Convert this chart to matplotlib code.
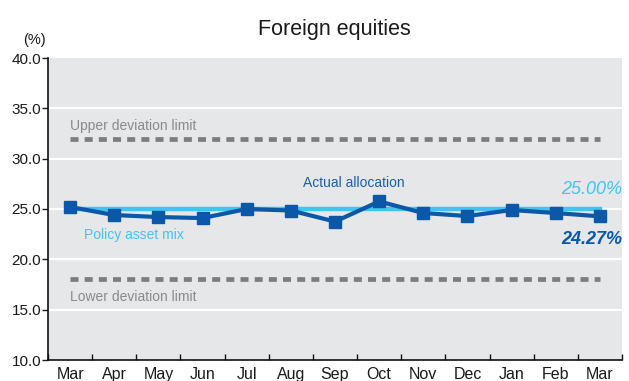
import matplotlib.pyplot as plt
import numpy as np

plt.rcParams['font.family'] = ['Liberation Sans', 'DejaVu Sans']

months = ['Mar', 'Apr', 'May', 'Jun', 'Jul', 'Aug', 'Sep', 'Oct', 'Nov', 'Dec', 'Jan', 'Feb', 'Mar']
actual = [25.2, 24.4, 24.2, 24.1, 25.0, 24.85, 23.75, 25.75, 24.6, 24.3, 24.9, 24.6, 24.27]
policy = 25.00
upper_limit = 32.0
lower_limit = 18.0

dark_blue = '#0b58a8'
light_blue = '#43c3ef'
band_gray = '#7d7d7d'

x = np.arange(len(months))

fig = plt.figure(figsize=(6.29, 3.81), dpi=100)
ax = fig.add_axes([48 / 629, 21 / 381, 574 / 629, 302 / 381])
ax.set_facecolor('#e6e7e8')

ax.set_xlim(-0.5, len(months) - 0.5)
ax.set_ylim(10, 40)

# white horizontal grid
for yv in [15, 20, 25, 30, 35]:
    ax.axhline(yv, color='white', lw=1.6, zorder=1)

# deviation limits
ax.plot([0, 12], [upper_limit, upper_limit], color=band_gray, lw=3.4,
        dashes=(1.7, 1.3), zorder=2)
ax.plot([0, 12], [lower_limit, lower_limit], color=band_gray, lw=3.4,
        dashes=(1.7, 1.3), zorder=2)
ax.text(-0.01, upper_limit + 0.55, 'Upper deviation limit', color='#8a8a8a',
        fontsize=10, va='bottom', ha='left')
ax.text(-0.01, lower_limit - 1.0, 'Lower deviation limit', color='#8a8a8a',
        fontsize=10, va='top', ha='left')

# policy asset mix
ax.plot([0, 12], [policy, policy], color=light_blue, lw=3.2, zorder=3)
ax.text(0.32, 22.4, 'Policy asset mix', color=light_blue, fontsize=10,
        va='center', ha='left')

# actual allocation
ax.plot(x, actual, color=dark_blue, lw=3, marker='s', markersize=9,
        zorder=4, solid_joinstyle='miter')
ax.text(5.28, 27.6, 'Actual allocation', color='#1a5fab', fontsize=10,
        va='center', ha='left')

ax.text(12.5, 26.9, f'{policy:.2f}%', color=light_blue, fontsize=13,
        style='italic', ha='right', va='center')
ax.text(12.5, 22.0, f'{actual[-1]:.2f}%', color=dark_blue, fontsize=13,
        style='italic', fontweight='bold', ha='right', va='center')

# axes styling
for side in ['top', 'right']:
    ax.spines[side].set_visible(False)
ax.spines['left'].set_color('#111111')
ax.spines['bottom'].set_color('#111111')
ax.spines['left'].set_linewidth(1.2)
ax.spines['bottom'].set_linewidth(1.2)

ax.set_yticks([10, 15, 20, 25, 30, 35, 40])
ax.set_yticklabels([f'{v:.1f}' for v in [10, 15, 20, 25, 30, 35, 40]])
ax.tick_params(axis='y', length=4, width=1, pad=1, labelsize=11, colors='#1a1a1a')

ax.set_xticks(x)
ax.set_xticklabels(months)
ax.set_xticks(np.arange(-0.5, len(months)), minor=True)
ax.tick_params(axis='x', which='major', length=0, pad=5, labelsize=11.5, colors='#1a1a1a')
ax.tick_params(axis='x', which='minor', length=4, width=1, direction='in', color='#111111')

fig.text(34 / 629, 1 - 40 / 381, '(%)', fontsize=10.5, ha='center', va='center', color='#1a1a1a')
fig.text(334 / 629, 1 - 30 / 381, 'Foreign equities', fontsize=15.5, ha='center',
         va='center', color='#1a1a1a')

fig.savefig('out.png', dpi=100)
